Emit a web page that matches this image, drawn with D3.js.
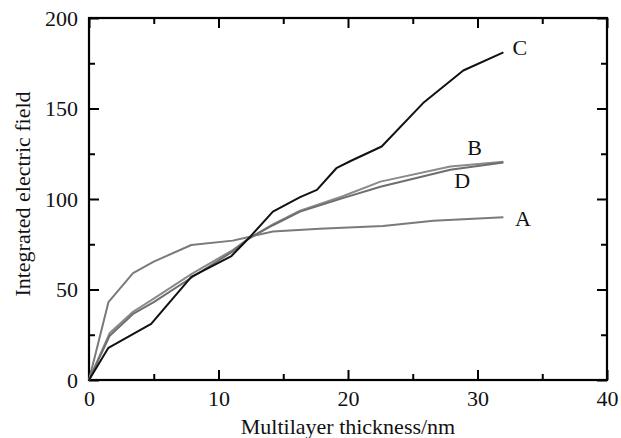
<!DOCTYPE html>
<html><head><meta charset="utf-8">
<script src="https://cdn.jsdelivr.net/npm/d3@7/dist/d3.min.js"></script>
<style>body{margin:0;background:#fff}svg{display:block}text{font-family:"Liberation Serif","Times New Roman",serif}</style>
</head><body><svg id="c" width="621" height="438"></svg>
<script>
const xTicks = [0, 10, 20, 30, 40];
const xMinor = [5, 15, 25, 35];
const yTicks = [0, 50, 100, 150, 200];
const yMinor = [25, 75, 125, 175];

const xA = [0, 1.5, 3.4, 5.0, 7.9, 11.1, 14.2, 17.8, 22.7, 26.6, 32.0];
const yA = [0, 43, 59, 65.4, 74.6, 77, 82, 83.5, 85.1, 88, 89.9];
const xB = [0, 1.6, 3.4, 5.0, 7.9, 11.1, 12.3, 14.2, 16.3, 19.6, 22.5, 27.9, 32.0];
const yB = [0, 26, 37.7, 45, 58.5, 71.8, 78, 86, 93.5, 101.5, 109.6, 118, 120.6];
const xD = [0, 1.6, 3.4, 5.0, 7.9, 11.1, 12.3, 14.2, 16.3, 19.6, 22.5, 27.9, 32.0];
const yD = [0, 24.5, 36.5, 43, 56.5, 71, 78, 85.5, 93, 100.5, 106.8, 116.2, 120.2];
const xC = [0, 1.5, 4.8, 7.9, 11.0, 12.3, 14.2, 16.3, 17.6, 19.1, 20.2, 22.6, 25.8, 28.9, 32.0];
const yC = [0, 17.8, 31, 57, 68.5, 78, 93, 101, 105, 117, 121, 129, 153, 171, 181];
const seriesNames = ["A", "B", "D", "C"];

const L = 89, R = 607, T = 18, B = 380;
const FS = 22;
const svg = d3.select("#c");
const x = d3.scaleLinear().domain([0, 40]).range([L, R]);
const y = d3.scaleLinear().domain([0, 200]).range([B, T]);

const major = 10, minor = 6;
function ax(gen, tr, vals, size, labels, pad) {
  const g = svg.append("g").attr("transform", tr)
    .call(gen.tickValues(vals).tickSizeInner(size).tickSizeOuter(0).tickPadding(pad || 6)
      .tickFormat(labels ? d3.format("d") : () => ""));
  g.select(".domain").remove();
  g.selectAll(".tick line").attr("stroke", "#000").attr("stroke-width", 2);
  g.selectAll("text").attr("font-size", FS).attr("fill", "#111").attr("font-family", "Liberation Serif");
  return g;
}
ax(d3.axisBottom(x), `translate(0,${B})`, xTicks, -major, true, 10);
ax(d3.axisBottom(x), `translate(0,${B})`, xMinor, -minor, false);
ax(d3.axisTop(x), `translate(0,${T})`, xTicks, -major, false);
ax(d3.axisTop(x), `translate(0,${T})`, xMinor, -minor, false);
ax(d3.axisLeft(y), `translate(${L},0)`, yTicks, -major, true, 11);
ax(d3.axisLeft(y), `translate(${L},0)`, yMinor, -minor, false);
ax(d3.axisRight(y), `translate(${R},0)`, yTicks, -major, false);
ax(d3.axisRight(y), `translate(${R},0)`, yMinor, -minor, false);

svg.append("rect").attr("x", L).attr("y", T).attr("width", R - L).attr("height", B - T)
  .attr("fill", "none").attr("stroke", "#000").attr("stroke-width", 2.2);

const line = d3.line().x(d => x(d[0])).y(d => y(d[1]));
const data = {
  A: d3.zip(xA, yA), B: d3.zip(xB, yB), D: d3.zip(xD, yD), C: d3.zip(xC, yC)
};
const colors = {A: "#7a7a7a", B: "#8a8a8a", D: "#6e6e6e", C: "#111"};
seriesNames.forEach(n => {
  svg.append("path").datum(data[n]).attr("d", line).attr("fill", "none")
    .attr("stroke", colors[n]).attr("stroke-width", 2).attr("stroke-linejoin", "round");
});

const labelPos = {C: [32.7, 179.5], B: [29.2, 124.5], D: [28.2, 106], A: [32.9, 85]};
seriesNames.forEach(n => {
  svg.append("text").attr("x", x(labelPos[n][0])).attr("y", y(labelPos[n][1]))
    .attr("font-size", FS).attr("fill", "#111").text(n);
});

svg.append("text").attr("x", 348).attr("y", 434).attr("text-anchor", "middle")
  .attr("font-size", FS).attr("fill", "#111").text("Multilayer thickness/nm");
svg.append("text").attr("transform", `translate(30,${194}) rotate(-90)`)
  .attr("text-anchor", "middle").attr("font-size", FS).attr("fill", "#111")
  .text("Integrated electric field");
</script></body></html>
